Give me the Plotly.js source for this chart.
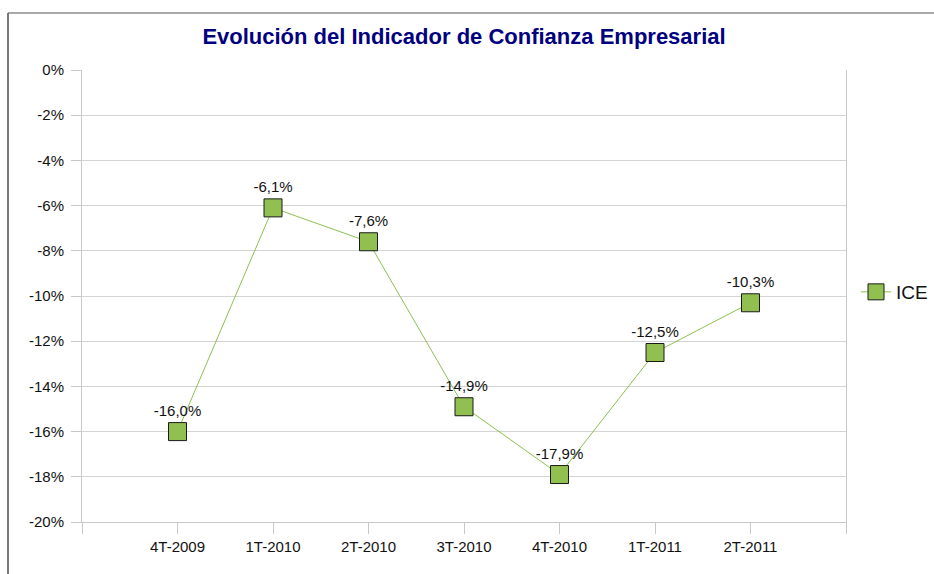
<!DOCTYPE html>
<html>
<head>
<meta charset="utf-8">
<script src="https://cdn.plot.ly/plotly-3.0.1.min.js"></script>
<style>
html,body{margin:0;padding:0;background:#fff;}
#chart{width:934px;height:574px;}
</style>
</head>
<body>
<div id="chart"></div>
<script>
const categories = ["4T-2009","1T-2010","2T-2010","3T-2010","4T-2010","1T-2011","2T-2011"];
const iceValues = [-16.0, -6.1, -7.6, -14.9, -17.9, -12.5, -10.3];
const seriesName = "ICE";
const yTickVals = [0,-2,-4,-6,-8,-10,-12,-14,-16,-18,-20];

const xIdx = categories.map((c,i)=>i);
const tickVals = [-1].concat(xIdx, [categories.length]);
const tickText = [""].concat(categories, [""]);

const W = 934, H = 574, L = 82, R = 88, T = 70, B = 52;
const pw = W - L - R, ph = H - T - B;
const px = v => (v - L) / pw;
const py = v => (H - B - v) / ph;

const trace = {
  x: xIdx,
  y: iceValues,
  type: 'scatter',
  mode: 'lines+markers+text',
  name: seriesName,
  line: {color: '#8cc152', width: 1},
  marker: {symbol: 'square', size: 18, color: '#92c050', line: {color: '#1a1a1a', width: 1}},
  texttemplate: '%{y:.1f}%',
  textposition: 'top center',
  textfont: {family: 'Liberation Sans, Arial, sans-serif', size: 15, color: '#111'},
  cliponaxis: false,
  hoverinfo: 'none'
};

const layout = {
  width: W, height: H,
  margin: {l: L, r: R, t: T, b: B, autoexpand: false},
  paper_bgcolor: '#fff', plot_bgcolor: '#fff',
  separators: ',.',
  font: {family: 'Liberation Sans, Arial, sans-serif', size: 15, color: '#111'},
  title: {
    text: '<b>Evolución del Indicador de Confianza Empresarial</b>',
    font: {family: 'Liberation Sans, Arial, sans-serif', size: 22, color: '#000080'},
    x: 0.5, xref: 'paper', xanchor: 'center',
    y: 1 - 36/H, yanchor: 'middle'
  },
  showlegend: true,
  legend: {
    x: px(856), xanchor: 'left', y: py(292), yanchor: 'middle',
    font: {size: 19, color: '#111'}, bgcolor: 'rgba(0,0,0,0)',
    itemwidth: 30
  },
  xaxis: {
    type: 'linear', range: [-1, categories.length],
    tickmode: 'array', tickvals: tickVals, ticktext: tickText,
    ticks: 'outside', ticklen: 11, tickcolor: '#c8c8c8', tickwidth: 1,
    showgrid: false, zeroline: false,
    showline: true, linecolor: '#c8c8c8', linewidth: 1,
    tickfont: {size: 15, color: '#111'}, fixedrange: true
  },
  yaxis: {
    range: [-20, 0],
    tickmode: 'array', tickvals: yTickVals, ticktext: yTickVals.map(v => v + '%'),
    ticks: 'outside', ticklen: 10, tickcolor: '#c8c8c8',
    ticklabelstandoff: 4,
    showgrid: true, gridcolor: '#d4d4d4', gridwidth: 1,
    zeroline: false,
    showline: true, mirror: true, linecolor: '#c8c8c8', linewidth: 1,
    tickfont: {size: 15, color: '#111'}, fixedrange: true
  },
  shapes: [
    {type: 'line', xref: 'paper', yref: 'paper', x0: px(8), x1: px(8), y0: py(13), y1: py(600), line: {color: '#222', width: 1.2}},
    {type: 'line', xref: 'paper', yref: 'paper', x0: px(8), x1: px(960), y0: py(13), y1: py(13), line: {color: '#555', width: 1.2}}
  ]
};

Plotly.newPlot('chart', [trace], layout, {staticPlot: true, displayModeBar: false});
</script>
</body>
</html>
